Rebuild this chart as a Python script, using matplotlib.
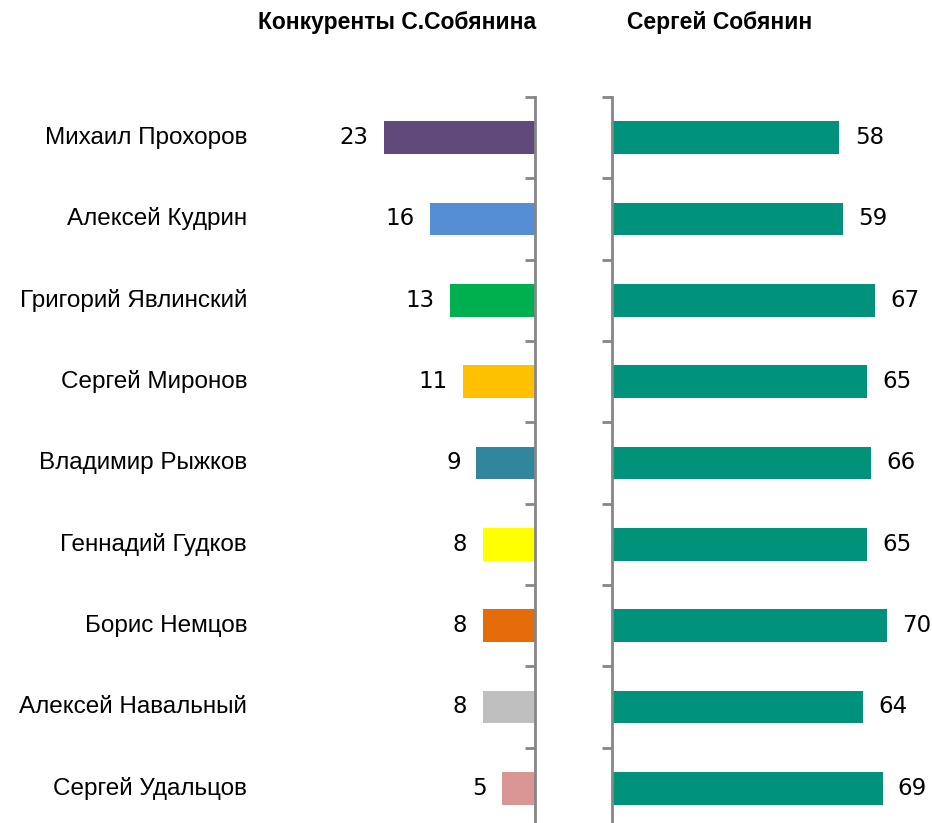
import matplotlib.pyplot as plt
from matplotlib.transforms import blended_transform_factory

# data
names = ['Михаил Прохоров', 'Алексей Кудрин', 'Григорий Явлинский', 'Сергей Миронов',
         'Владимир Рыжков', 'Геннадий Гудков', 'Борис Немцов', 'Алексей Навальный',
         'Сергей Удальцов']
rivals = [23, 16, 13, 11, 9, 8, 8, 8, 5]
sobyanin = [58, 59, 67, 65, 66, 65, 70, 64, 69]
rival_colors = ['#604A7B', '#558ED5', '#00B050', '#FFC000', '#31859C',
                '#FFFF00', '#E46C0A', '#BFBFBF', '#D99694']
sob_color = '#00927B'
titles = ['Конкуренты С.Собянина', 'Сергей Собянин']

W, H = 932, 823
fig = plt.figure(figsize=(W / 100, H / 100), dpi=100)

y0 = 1 - 829 / H
hgt = (829 - 97) / H
axL = fig.add_axes([270 / W, y0, (535 - 270) / W, hgt])
axR = fig.add_axes([612 / W, y0, (932 - 612) / W, hgt])

pos = list(range(len(names)))
axis_col = '#868686'

# left panel, bars grow to the left
axL.barh(pos, rivals, height=0.4, color=rival_colors)
axL.set_xlim(40.4, 0)
for sp in ['left', 'top', 'bottom']:
    axL.spines[sp].set_visible(False)
axL.spines['right'].set_color(axis_col)
axL.spines['right'].set_linewidth(2)
axL.yaxis.tick_right()
axL.tick_params(axis='y', direction='in', length=7, width=2, color=axis_col, labelright=False)
for p, v in zip(pos, rivals):
    axL.annotate(str(v), (v, p), xytext=(-11, 0), textcoords='offset points',
                 ha='right', va='center', fontsize=16.5, color='black')

# right panel
axR.barh(pos, sobyanin, height=0.4, color=sob_color)
axR.set_xlim(0, 81.6)
for sp in ['right', 'top', 'bottom']:
    axR.spines[sp].set_visible(False)
axR.spines['left'].set_color(axis_col)
axR.spines['left'].set_linewidth(2)
axR.tick_params(axis='y', direction='out', length=7, width=2, color=axis_col, labelleft=False)
for p, v in zip(pos, sobyanin):
    axR.annotate(str(v), (v, p), xytext=(11, 0), textcoords='offset points',
                 ha='left', va='center', fontsize=16.5, color='black', annotation_clip=False)

for ax in (axL, axR):
    ax.set_ylim(len(names) - 0.5, -0.5)
    ax.set_yticks([i - 0.5 for i in range(len(names) + 1)])
    ax.set_xticks([])
    ax.patch.set_visible(False)

# category names
tr = blended_transform_factory(fig.transFigure, axL.transData)
for p, n in zip(pos, names):
    axL.text(247 / W, p, n, transform=tr, ha='right', va='center',
             fontsize=17.5, family=['Liberation Sans', 'DejaVu Sans'], clip_on=False)

fig.text(397 / W, 1 - 22 / H, titles[0], ha='center', va='center', fontsize=16.5,
         fontweight='bold', family=['Liberation Sans', 'DejaVu Sans'])
fig.text(720 / W, 1 - 22 / H, titles[1], ha='center', va='center', fontsize=16.5,
         fontweight='bold', family=['Liberation Sans', 'DejaVu Sans'])

fig.savefig('out.png', dpi=100)
